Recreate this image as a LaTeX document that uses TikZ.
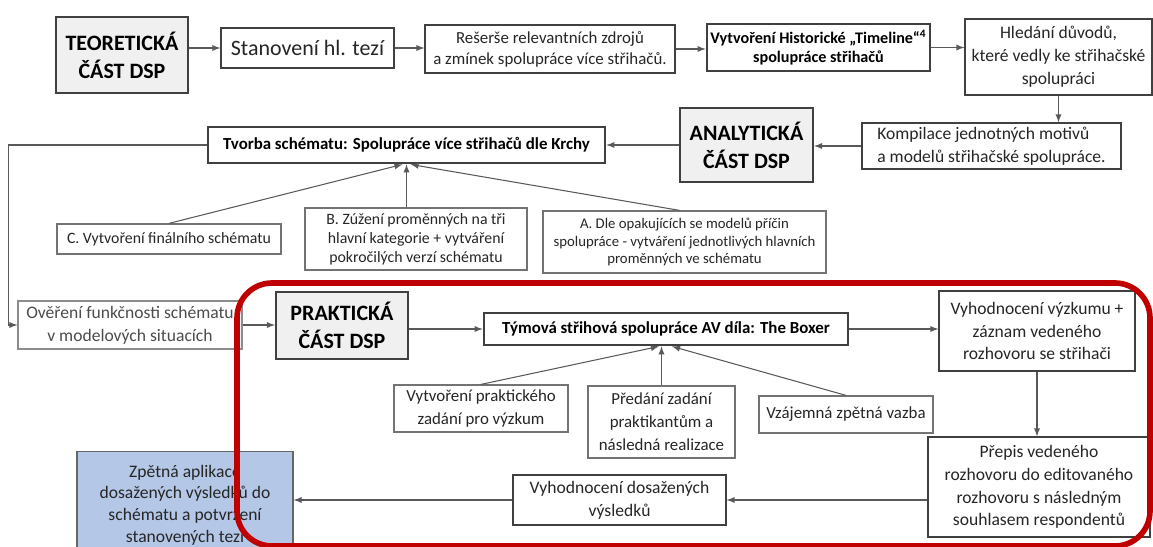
\documentclass[tikz,border=0pt]{standalone}
\usepackage{fontspec}
\setmainfont{Carlito}
\usetikzlibrary{arrows}
\definecolor{ramec}{RGB}{192,0,0}
\definecolor{modra}{RGB}{180,199,231}

\begin{document}
\begin{tikzpicture}[x=0.02cm,y=-0.02cm,
    box/.style={draw=black!75,fill=white,line width=0.7pt,align=center,inner sep=1pt,text=black!85,font=\fontsize{10}{13}\selectfont},
    part/.style={box,fill=black!6,line width=1.2pt,text=black,font=\bfseries\fontsize{12.5}{16}\selectfont},
    hlavni/.style={box,line width=1.6pt,text=black,font=\bfseries\fontsize{9.6}{11}\selectfont},
    krok/.style={box,draw=black!55,font=\fontsize{9}{10.8}\selectfont},
    spoj/.style={draw=black!65,line width=0.6pt,->,>=latex}]
    \clip (0,0) rectangle (1153,547);
    % teoreticka cast
    \node[part,minimum width=2.64cm,minimum height=1.52cm] (teor) at (122,55) {TEORETICKÁ\\ČÁST DSP};
    \node[box,minimum width=3.46cm,minimum height=0.8cm,font=\fontsize{12.5}{15}\selectfont] (stanov) at (307.5,48) {Stanovení hl. tezí};
    \node[box,minimum width=5cm,minimum height=0.96cm,font=\fontsize{9.6}{12}\selectfont] (reserse) at (550,49) {Rešerše relevantních zdrojů\\a zmínek spolupráce více střihačů.};
    \node[hlavni,minimum width=4.46cm,minimum height=0.94cm,font=\bfseries\fontsize{9.2}{10.6}\selectfont] (timeline) at (818.5,47.5) {Vytvoření Historické „Timeline“\textsuperscript{4}\\spolupráce střihačů};
    \node[box,minimum width=3.74cm,minimum height=1.52cm] (duvody) at (1058.5,57) {Hledání důvodů,\\které vedly ke střihačské\\spolupráci};
    % analyticka cast
    \node[box,align=left,minimum width=5.18cm,minimum height=0.92cm] (kompil) at (991.5,146) {Kompilace jednotných motivů\\a modelů střihačské spolupráce.};
    \node[part,minimum width=2.66cm,minimum height=1.48cm] (analyt) at (746.5,145) {ANALYTICKÁ\\ČÁST DSP};
    \node[hlavni,minimum width=7.94cm,minimum height=0.72cm] (schema) at (406.5,145) {Tvorba schématu: Spolupráce více střihačů dle Krchy};
    \node[krok,minimum width=4.48cm,minimum height=0.6cm] (krokC) at (169,239) {C. Vytvoření finálního schématu};
    \node[krok,minimum width=4.44cm,minimum height=1.24cm] (krokB) at (416,239) {B. Zúžení proměnných na tři\\hlavní kategorie + vytváření\\pokročilých verzí schématu};
    \node[krok,minimum width=5.66cm,minimum height=1.24cm,font=\fontsize{8.4}{9.8}\selectfont] (krokA) at (684.5,242) {A. Dle opakujících se modelů příčin\\spolupráce - vytváření jednotlivých hlavních\\proměnných ve schématu};
    % prakticka cast
    \node[box,draw=black!45,text=black!70,minimum width=4.48cm,minimum height=0.96cm] (overeni) at (130,325) {Ověření funkčnosti schématu\\v modelových situacích};
    \node[part,minimum width=2.64cm,minimum height=1.34cm] (prakt) at (342,325.5) {PRAKTICKÁ\\ČÁST DSP};
    \node[hlavni,minimum width=7.28cm,minimum height=0.64cm] (boxer) at (666,329) {Týmová střihová spolupráce AV díla: The Boxer};
    \node[box,minimum width=3.92cm,minimum height=1.6cm] (vyzkum) at (1037,331) {Vyhodnocení výzkumu +\\záznam vedeného\\rozhovoru se střihači};
    \node[krok,minimum width=3.48cm,minimum height=0.94cm,font=\fontsize{9.6}{13}\selectfont] (zadani) at (481,408.5) {Vytvoření praktického\\zadání pro výzkum};
    \node[krok,minimum width=2.94cm,minimum height=1.44cm,font=\fontsize{9.6}{13}\selectfont] (predani) at (661.5,422) {Předání zadání\\praktikantům a\\následná realizace};
    \node[krok,minimum width=3.48cm,minimum height=0.74cm,font=\fontsize{9.6}{13}\selectfont] (vazba) at (846,414.5) {Vzájemná zpětná vazba};
    \node[box,minimum width=4.44cm,minimum height=2cm] (prepis) at (1039,487) {Přepis vedeného\\rozhovoru do editovaného\\rozhovoru s následným\\souhlasem respondentů};
    \node[box,minimum width=4.26cm,minimum height=1cm] (vysl) at (619.5,500) {Vyhodnocení dosažených\\výsledků};
    \node[box,draw=black!60,fill=modra,minimum width=4.32cm,minimum height=2.14cm,font=\fontsize{10}{12.4}\selectfont] (zpetna) at (185,505) {Zpětná aplikace\\dosažených výsledků do\\schématu a potvrzení\\stanovených tezí};
    % spoje
    \draw[spoj] (teor.east |- stanov.west) -- (stanov.west);
    \draw[spoj] (stanov.east) -- (reserse.west |- stanov.east);
    \draw[spoj] (reserse.east) -- (timeline.west |- reserse.east);
    \draw[spoj] (timeline.east) -- (duvody.west |- timeline.east);
    \draw[spoj] (duvody.south) -- (duvody.south |- kompil.north);
    \draw[spoj] (kompil.west) -- (analyt.east |- kompil.west);
    \draw[spoj] (analyt.west) -- (schema.east);
    \draw[spoj] (krokC.north) -- ([xshift=-0.08cm]schema.south);
    \draw[spoj] (schema.south |- krokB.north) -- (schema.south);
    \draw[spoj] ([xshift=-0.1cm]krokA.north) -- ([xshift=0.08cm]schema.south);
    \draw[spoj] (schema.west) -- ++(-198,0) |- (overeni.west);
    \draw[spoj] (overeni.east) -- (prakt.west |- overeni.east);
    \draw[spoj] (prakt.east |- boxer.west) -- (boxer.west);
    \draw[spoj] (boxer.east) -- (vyzkum.west |- boxer.east);
    \draw[spoj] (zadani.north) -- ([xshift=-0.14cm]boxer.south);
    \draw[spoj] (predani.north) -- (predani.north |- boxer.south);
    \draw[spoj] (vazba.north) -- ([xshift=0.12cm]boxer.south);
    \draw[spoj] (vyzkum.south) -- (vyzkum.south |- prepis.north);
    \draw[spoj] (prepis.west |- vysl.east) -- (vysl.east);
    \draw[spoj] (vysl.west) -- (zpetna.east |- vysl.west);
    %\draw[ramec] (237,283) rectangle (1150,546);
    \draw[ramec,line width=3.2pt,rounded corners=0.7cm] (237,283) rectangle (1150,546);
\end{tikzpicture}
\end{document}
